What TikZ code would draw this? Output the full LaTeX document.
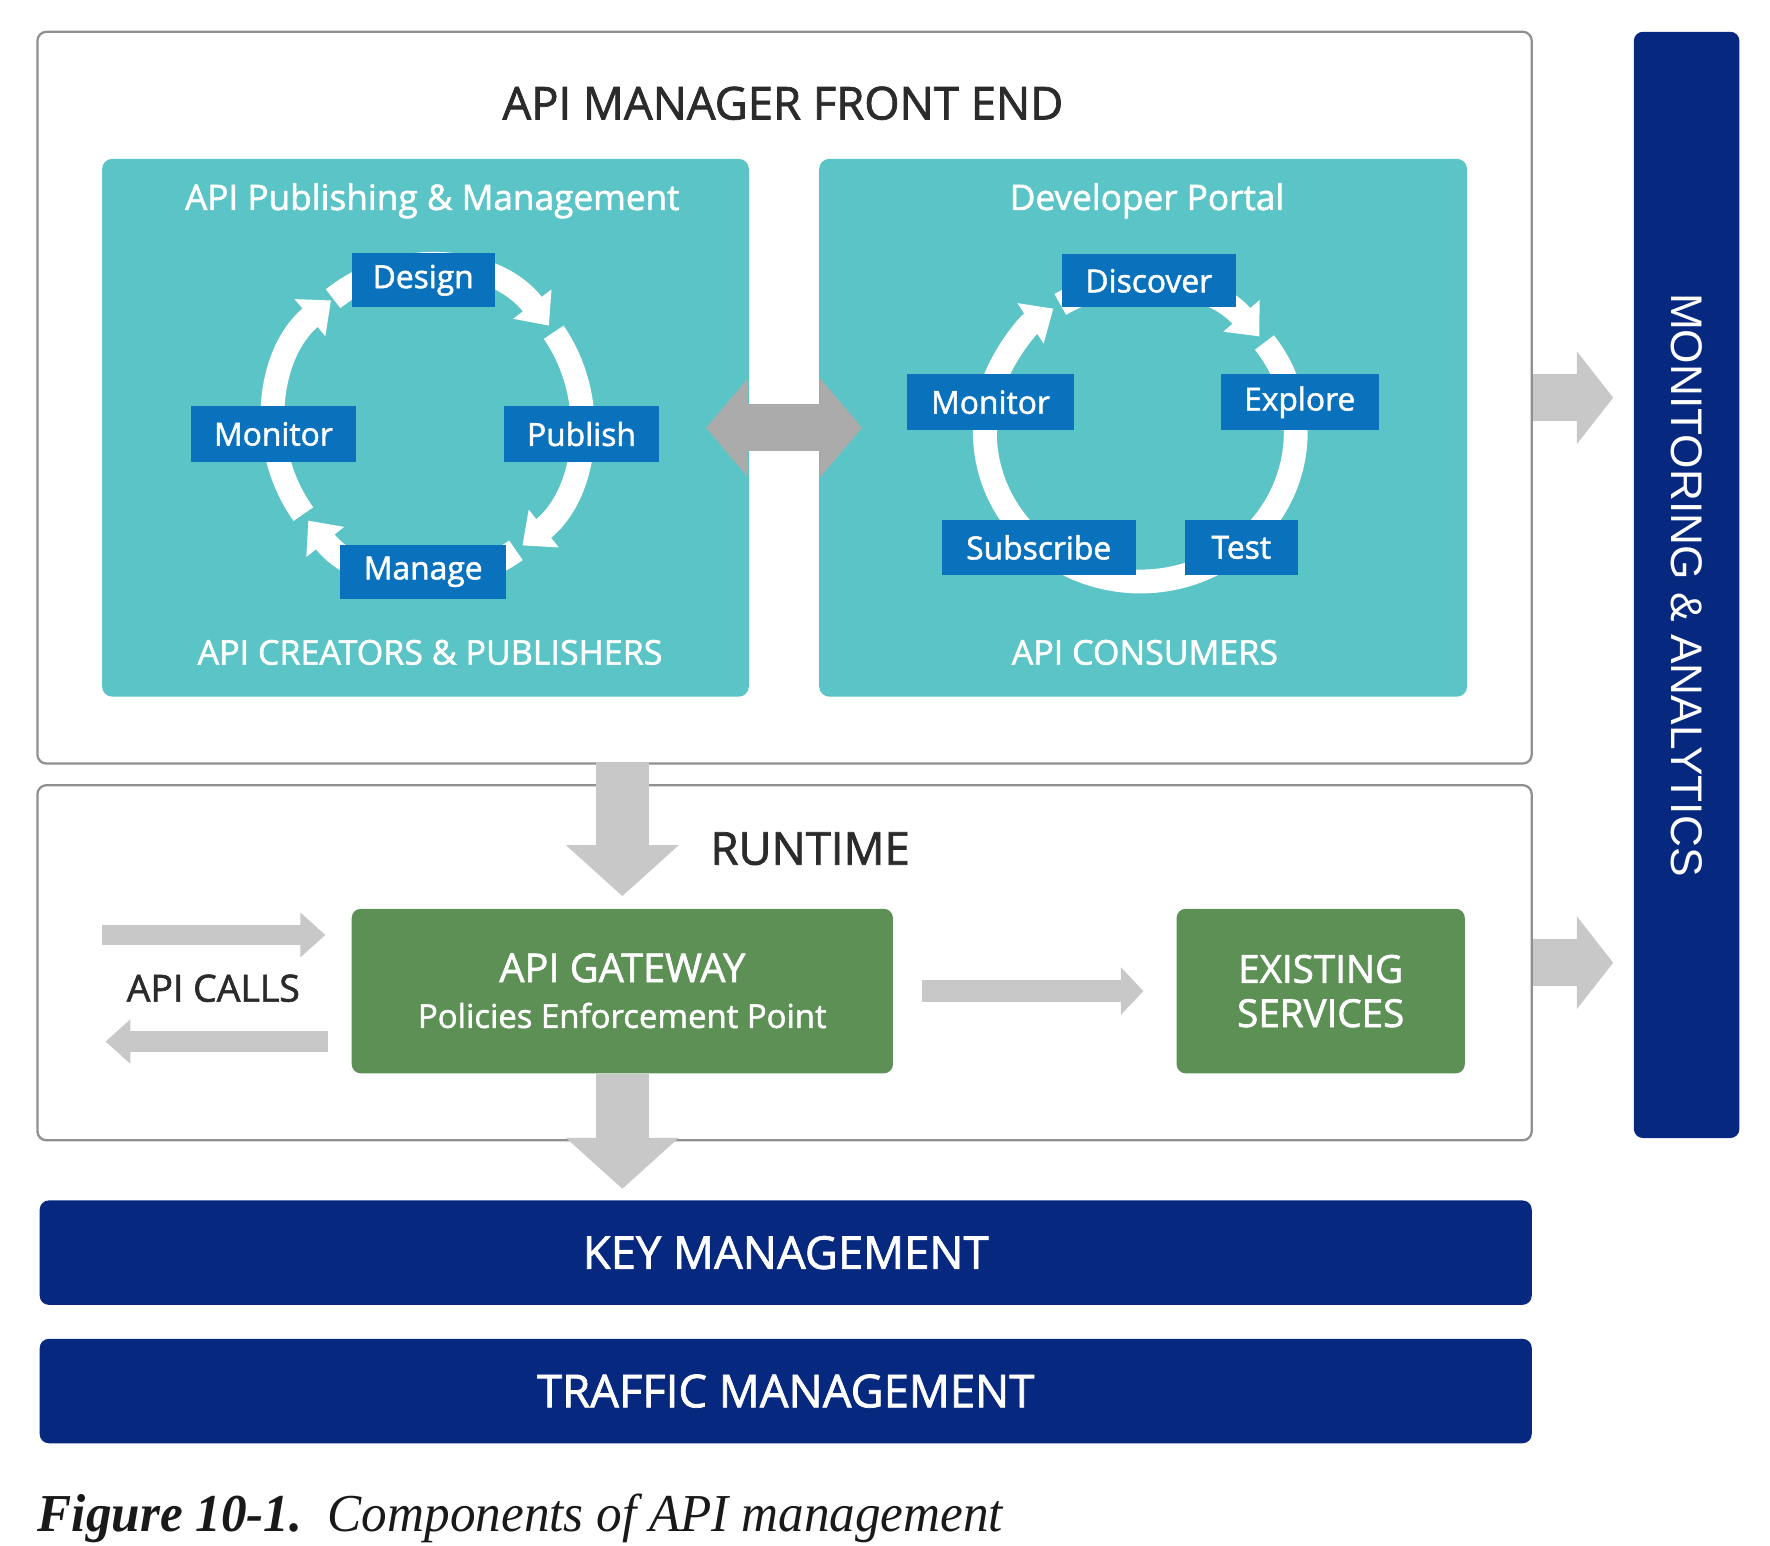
\documentclass[tikz,border=0pt]{standalone}
\usepackage{fontspec}
\setmainfont{Open Sans}[RawFeature={embolden=1.6}]
\newfontfamily\capfont{Liberation Serif}
\newfontfamily\arialfont{Liberation Sans}
\usetikzlibrary{arrows.meta}
\newcommand\fsz[1]{\fontsize{#1}{#1}\selectfont}
\definecolor{teal1}{HTML}{5BC4C6}
\definecolor{boxblue}{HTML}{0A72BD}
\definecolor{green1}{HTML}{5C9055}
\definecolor{navy}{HTML}{07287F}
\definecolor{arrgray}{HTML}{C8C8C8}
\definecolor{darrgray}{HTML}{ABABAB}
\definecolor{framegray}{HTML}{909090}
\definecolor{txtdark}{HTML}{2B2B2B}
\tikzset{
  frame/.style={draw=framegray, line width=2, rounded corners=8, fill=white, inner sep=0},
  panel/.style={fill=teal1, rounded corners=9, inner sep=0},
  bbox/.style={fill=boxblue, text=white, font=\fsz{28}, inner sep=0},
  gbox/.style={fill=green1, rounded corners=8, inner sep=0},
  navybar/.style={fill=navy, rounded corners=8, text=white, inner sep=0},
  ring/.style={draw=white, line width=21, line cap=butt, -{Triangle[width=41pt,length=24pt]}},
  fatarrow/.style={draw=arrgray, line width=47, -{Triangle[width=97pt,length=45pt]}},
  midarrow/.style={draw=arrgray, line width=20, -{Triangle[width=41pt,length=20pt]}},
  thinarrow/.style={draw=arrgray, line width=18, -{Triangle[width=38pt,length=22pt]}},
  sidearrow/.style={draw=arrgray, line width=41, -{Triangle[width=80pt,length=32pt]}},
  dblarrow/.style={draw=darrgray, line width=41, {Triangle[width=85pt,length=37pt]}-{Triangle[width=85pt,length=37pt]}},
  wtext/.style={text=white, inner sep=0},
}
\begin{document}
\begin{tikzpicture}[x=1pt,y=-1pt]
\useasboundingbox (0,0) rectangle (1560,1362.5);

% frames
\node[frame, minimum width=1317, minimum height=645] (fe) at (691.5,350.5) {};
\node[frame, minimum width=1317, minimum height=313] (rt) at (691.5,848.5) {};
\node[text=txtdark, font=\fsz{40}, inner sep=0] (fet) at (690,91) {API MANAGER FRONT END};
\node[text=txtdark, font=\fsz{40}, inner sep=0] (rtt) at (714,748) {RUNTIME};

% panels
\node[panel, minimum width=570, minimum height=474] (pm) at (375,377) {};
\node[panel, minimum width=571, minimum height=474] (dp) at (1007.5,377) {};
\node[wtext, font=\fsz{31}] (pmt) at (381,177) {API Publishing \& Management};
\node[wtext, font=\fsz{30}] (pmb) at (379,575) {API CREATORS \& PUBLISHERS};
\node[wtext, font=\fsz{31}] (dpt) at (1011,177) {Developer Portal};
\node[wtext, font=\fsz{30}] (dpb) at (1009,575) {API CONSUMERS};

% double arrow between panels
\draw[dblarrow] ([xshift=-38pt]pm.east) -- ([xshift=38pt]dp.west);

% left cycle ring
\coordinate (cL) at (377,372);
\draw[ring] (cL) ++(-128:135.5 and 138) arc[start angle=-128, end angle=-38, x radius=135.5, y radius=138];
\draw[ring] (cL) ++(-35:135.5 and 138) arc[start angle=-35, end angle=52, x radius=135.5, y radius=138];
\draw[ring] (cL) ++(55:135.5 and 138) arc[start angle=55, end angle=141, x radius=135.5, y radius=138];
\draw[ring] (cL) ++(144:135.5 and 138) arc[start angle=144, end angle=231, x radius=135.5, y radius=138];

% right cycle ring
\coordinate (cR) at (1005,381);
\draw[ring] (cR) ++(-121:137 and 131.5) arc[start angle=-121, end angle=-40, x radius=137, y radius=131.5];
\draw[ring] (cR) ++(-37:137 and 131.5) arc[start angle=-37, end angle=236, x radius=137, y radius=131.5];

% left boxes
\node[bbox, minimum width=126, minimum height=48] (design) at (373,247) {Design};
\node[bbox, minimum width=146, minimum height=49] (monL) at (241,382.5) {Monitor};
\node[bbox, minimum width=137, minimum height=49] (publish) at (512.5,382.5) {Publish};
\node[bbox, minimum width=146, minimum height=48] (manage) at (373,504) {Manage};

% right boxes
\node[bbox, minimum width=153, minimum height=47] (discover) at (1012.5,247.5) {Discover};
\node[bbox, minimum width=148, minimum height=49] (monR) at (873,354.5) {Monitor};
\node[bbox, minimum width=139, minimum height=49] (explore) at (1145.5,354.5) {Explore};
\node[bbox, minimum width=171, minimum height=49] (subscribe) at (915.5,482.5) {Subscribe};
\node[bbox, minimum width=100, minimum height=49] (test) at (1094,482.5) {Test};

% runtime boxes
\node[gbox, minimum width=477, minimum height=145] (gw) at (548.5,873.5) {};
\node[wtext, font=\fsz{35}] (gwt) at (548.5,853) {API GATEWAY};
\node[wtext, font=\fsz{29}] (gws) at (548.5,895) {Policies Enforcement Point};
\node[gbox, minimum width=254, minimum height=145, text=white, align=center, font=\fontsize{34}{39}\selectfont] (es) at (1164,873.5) {EXISTING\\SERVICES};

% API calls
\node[text=txtdark, font=\fsz{33}, inner sep=0] (calls) at (188,871) {API CALLS};
\coordinate (inS) at (90,824);
\coordinate (outS) at (289,918);
\draw[thinarrow] (inS) -- ([xshift=-23pt]gw.west |- inS);
\draw[thinarrow] (outS) -- ([xshift=-196pt]outS);

% bars
\node[navybar, minimum width=1315, minimum height=92, font=\fsz{40}] (km) at (692.5,1104) {KEY MANAGEMENT};
\node[navybar, minimum width=1315, minimum height=92, font=\fsz{40}] (tm) at (692.5,1226) {TRAFFIC MANAGEMENT};
\node[navybar, minimum width=93, minimum height=975] (ma) at (1486.5,515.5) {};
\node[wtext, rotate=-90, font=\arialfont\fsz{39}] (mat) at (ma.center) {MONITORING \& ANALYTICS};

% gray connectors
\draw[fatarrow] (gw.north |- fe.south) ++(0,-2) -- ([yshift=11pt]gw.north);
\draw[fatarrow] (gw.south) -- ([yshift=10pt]gw.south |- km.north);
\draw[midarrow] ([xshift=25pt]gw.east) -- ([xshift=-29pt]es.west);
\draw[sidearrow] (fe.east) -- ([xshift=-18pt]ma.west |- fe.east);
\draw[sidearrow] (rt.east) -- ([xshift=-18pt]ma.west |- rt.east);

% caption
\node[anchor=base west, inner sep=0, text=black!90] (cap) at (33,1350) {\scalebox{0.96}[1]{\capfont\itshape\fsz{47}\textbf{Figure 10-1.}\ \ Components of API management}};
\end{tikzpicture}
\end{document}
